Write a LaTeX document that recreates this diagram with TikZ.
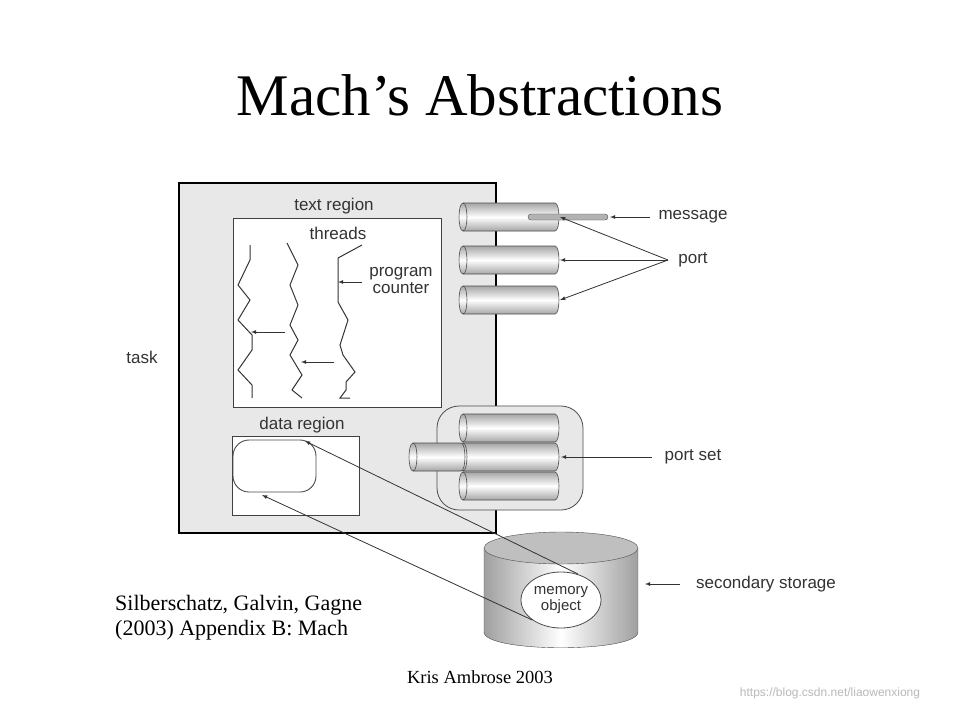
\documentclass[tikz,border=0pt]{standalone}
\usepackage{fontspec}
\usetikzlibrary{shapes.geometric}
\setmainfont{Liberation Serif}
\newfontfamily\lsans{Liberation Sans}
\begin{document}
\begin{tikzpicture}[x=1pt,y=-1pt,
  lab/.style={font=\lsans\fontsize{17}{17}\selectfont,text=black!80,inner sep=1pt},
  ser/.style={font=\fontsize{22}{25}\selectfont,inner sep=0pt},
  arr/.style={-latex,black!80,line width=0.8pt},
  thr/.style={line width=1pt,black!80},
  hcyl/.pic={
    \shade[top color=gray!70,bottom color=gray!70,middle color=white,draw=black!70,line width=0.6pt]
      (0,-14) -- (\pgfkeysvalueof{/tikz/cl},-14) .. controls +(5.3,0) and +(5.3,0) .. (\pgfkeysvalueof{/tikz/cl},14) -- (0,14) .. controls +(-5.3,0) and +(-5.3,0) .. (0,-14) -- cycle;
    \draw[black!70,line width=0.6pt] (0,-14) .. controls +(5.3,0) and +(5.3,0) .. (0,14);
  }]
\pgfkeyssetvalue{/tikz/cl}{92}
\useasboundingbox (0,0) rectangle (964,713);
\fill[white] (0,0) rectangle (964,713);
\node[font=\fontsize{59}{64}\selectfont] (title) at (480,95) {Mach’s Abstractions};
% task
\draw[fill=gray!18,line width=1.4pt] (179,183) rectangle (496,533);
\node[lab] (task) at (142,357) {task};
\node[lab] (tr) at (334,206) {text region};
\draw[fill=white,line width=0.9pt,draw=black!75] (233,218) rectangle (441,407);
\node[lab] (th) at (338,233) {threads};
\node[lab,align=center] (pc) at (401,281) {program\\counter};
\draw[thr] (250,245) -- (250,260) -- (238,285) -- (250,300) -- (238,320) -- (252,335) -- (252,350) -- (238,370) -- (252,385) -- (252,398);
\draw[thr] (287,243) -- (298,265) -- (290,285) -- (298,305) -- (290,325) -- (298,340) -- (290,355) -- (302,375) -- (292,390) -- (302,398);
\draw[thr] (362,245) -- (338,258) -- (338,302) -- (348,320) -- (340,345) -- (343,355) -- (355,372) -- (346,382) -- (346,390) -- (340,398) -- (350,398);
\coordinate (a1) at (285,332); \coordinate (b1) at (251,332);
\coordinate (a2) at (334,362); \coordinate (b2) at (301,362);
\coordinate (a3) at (362,282); \coordinate (b3) at (338,282);
\draw[arr] (a1) -- (b1); \draw[arr] (a2) -- (b2); \draw[arr] (a3) -- (b3);
% data region
\node[lab] (dr) at (302,425) {data region};
\draw[fill=white,line width=0.9pt,draw=black!75] (232,436) rectangle (359,515);
\draw[fill=white,line width=0.9pt,draw=black!70,rounded corners=16pt] (233,440) rectangle (316,492);
% ports
\foreach \y in {217,260,300}{ \pic at (463,\y) {hcyl}; }
\draw[fill=gray!60,draw=black!70,rounded corners=3pt] (528,214) rectangle (608,220);
\node[lab] (msg) at (693,217) {message};
\coordinate (m1) at (650,217); \coordinate (m2) at (610,217);
\draw[arr] (m1) -- (m2);
\node[lab] (port) at (693,260) {port};
\coordinate (p0) at (668,260);
\foreach \y in {217,260,300}{ \coordinate (pp) at (560,\y); \draw[arr] (p0) -- (pp); }
% port set
\draw[fill=gray!18,draw=black!70,line width=0.8pt,rounded corners=22pt] (437,406) rectangle (583,510);
\foreach \y in {486,428,457}{ \pic at (463,\y) {hcyl}; }
\pgfkeyssetvalue{/tikz/cl}{48}
\pic at (413,457) {hcyl};
\node[lab] (ps) at (693,457) {port set};
\coordinate (s1) at (652,457); \coordinate (s2) at (561,457);
\draw[arr] (s1) -- (s2);
% disk
\shade[left color=gray!75,right color=gray!75,middle color=white,draw=black!70] (484,548) -- (484,632) .. controls (484,653) and (638,653) .. (638,632) -- (638,548) -- cycle;
\draw[fill=gray!50,draw=black!70] (561,548) ellipse[x radius=77,y radius=16];
\node[draw=black!70,line width=0.8pt,fill=white,ellipse,minimum width=80,minimum height=56,inner sep=0pt,lab,font=\lsans\fontsize{15}{16}\selectfont,align=center] (mo) at (561,600) {memory\\object};
\node[lab] (ss) at (766,584) {secondary storage};
\coordinate (d1) at (680,584); \coordinate (d2) at (645,584);
\draw[arr] (d1) -- (d2);
\coordinate (e1) at (305,441); \coordinate (e2) at (262,495);
\coordinate (mo1) at (578,574);
\draw[arr] (mo1) -- (e1);
\draw[arr] (mo.south west) -- (e2);
% refs
\node[ser,anchor=west] (ref1) at (115,605) {Silberschatz, Galvin, Gagne};
\node[ser,anchor=west] (ref2) at (115,630) {(2003) Appendix B: Mach};
\node[font=\fontsize{18.5}{20}\selectfont] (kris) at (480,677) {Kris Ambrose 2003};
\node[font=\lsans\fontsize{12}{14}\selectfont,text=gray!55] (wm) at (830,693) {https://blog.csdn.net/liaowenxiong};
\end{tikzpicture}
\end{document}
